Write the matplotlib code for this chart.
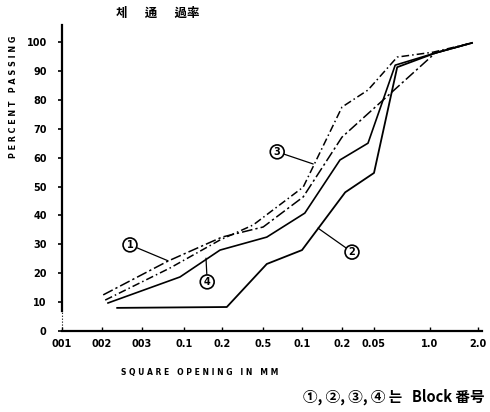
import matplotlib
matplotlib.use("Agg")
import matplotlib.pyplot as plt

plt.rcParams['font.family'] = ['DejaVu Sans', 'Noto Sans CJK KR']

# x tick labels (as printed) and percent ticks
x_labels = ["001", "002", "003", "0.1", "0.2", "0.5", "0.1", "0.2", "0.05", "1.0", "2.0"]
x_label_pos = [0.0, 1.0, 2.0, 3.05, 4.0, 5.02, 6.0, 7.0, 7.8, 9.2, 10.4]
y_ticks = [0, 10, 20, 30, 40, 50, 60, 70, 80, 90, 100]

# series (position along axis, percent passing)
s1_x = [1.03, 2.65, 4.0, 5.03, 6.03, 7.0, 9.33, 10.25]
s1_y = [12.5, 24.2, 32.5, 36.0, 46.4, 67.1, 96.2, 99.7]

s2_x = [1.38, 4.12, 5.12, 6.0, 7.08, 7.8, 8.38, 9.33, 10.25]
s2_y = [8.0, 8.3, 23.2, 28.0, 48.0, 54.7, 91.3, 96.2, 99.7]

s3_x = [1.08, 2.7, 3.95, 4.78, 6.03, 7.0, 7.65, 8.38, 9.28, 10.25]
s3_y = [10.7, 21.8, 31.5, 36.7, 49.8, 77.5, 83.4, 94.8, 96.5, 99.7]

s4_x = [1.15, 2.95, 3.95, 5.12, 6.07, 6.95, 7.65, 8.33, 9.33, 10.25]
s4_y = [9.7, 18.7, 28.0, 32.5, 40.8, 59.2, 65.0, 92.0, 96.2, 99.7]

fig = plt.figure(figsize=(4.9, 4.12), dpi=100)
ax = fig.add_axes([62/490, (412-331)/412, 420/490, 306/412])
ax.set_xlim(0, 10.5)
ax.set_ylim(0, 105.9)

ax.plot(s1_x, s1_y, color='black', lw=1.1, ls=(0, (7, 2, 1.5, 2)))
ax.plot(s2_x, s2_y, color='black', lw=1.3, ls='-')
ax.plot(s3_x, s3_y, color='black', lw=1.1, ls=(0, (5, 2, 1, 2)))
ax.plot(s4_x, s4_y, color='black', lw=1.2, ls='-')

circ = dict(boxstyle='circle,pad=0.2', fc='white', ec='black', lw=1.2)
arrow = dict(arrowstyle='-', color='black', lw=0.9, shrinkA=0, shrinkB=0)
fs = 7
ax.annotate('1', xy=(2.65, 24.3), xytext=(1.7, 29.8), ha='center', va='center',
            fontsize=fs, fontweight='bold', bbox=circ, arrowprops=arrow)
ax.annotate('4', xy=(3.6, 25.2), xytext=(3.63, 17.0), ha='center', va='center',
            fontsize=fs, fontweight='bold', bbox=circ, arrowprops=arrow)
ax.annotate('3', xy=(6.28, 57.8), xytext=(5.38, 62.0), ha='center', va='center',
            fontsize=fs, fontweight='bold', bbox=circ, arrowprops=arrow)
ax.annotate('2', xy=(6.4, 35.6), xytext=(7.25, 27.3), ha='center', va='center',
            fontsize=fs, fontweight='bold', bbox=circ, arrowprops=arrow)

for s in ['top', 'right']:
    ax.spines[s].set_visible(False)
ax.spines['left'].set_linewidth(1.6)
ax.spines['bottom'].set_linewidth(1.6)
ax.spines['left'].set_bounds(7, 105.9)
ax.plot([0, 0], [0, 7], color='black', lw=0.8, ls=':', clip_on=False)

ax.set_yticks(y_ticks)
ax.set_yticklabels([str(v) for v in y_ticks], fontsize=7, fontweight='bold')
ax.tick_params(axis='y', direction='out', length=3, width=1.2, pad=8)
ax.set_xticks(x_label_pos)
ax.set_xticklabels(x_labels, fontsize=7, fontweight='bold')
ax.tick_params(axis='x', direction='in', length=3, width=1.0, pad=6)

fig.text(158/490, 1 - 13/412, '체      通      過率', ha='center', va='center',
         fontsize=9, fontweight='bold', family=['Noto Sans CJK KR', 'DejaVu Sans'])
fig.text(14/490, 1 - 97/412, 'P E R C E N T   P A S S I N G', rotation=90,
         ha='center', va='center', fontsize=5.8, fontweight='bold')
fig.text(200/490, 1 - 372/412, 'S Q U A R E   O P E N I N G   I N   M M',
         ha='center', va='center', fontsize=5.5, fontweight='bold')
fig.text(485/490, 1 - 397/412, '①, ②, ③, ④ 는   Block 番号',
         ha='right', va='center', fontsize=10.5, fontweight='bold',
         family=['Noto Sans CJK KR', 'DejaVu Sans'])

fig.savefig('out.png', dpi=100)
